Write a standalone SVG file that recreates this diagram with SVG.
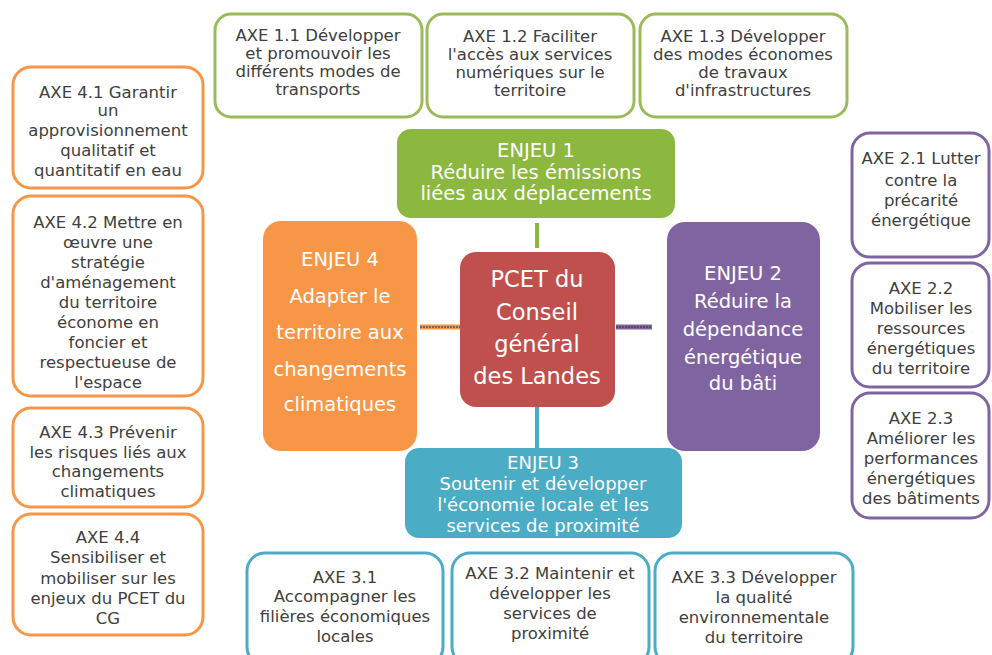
<svg xmlns="http://www.w3.org/2000/svg" width="992" height="655" viewBox="0 0 992 655">
<style>
.axe{fill:#fff;stroke-width:3}
.g{stroke:#9BBB59}.o{stroke:#F79646}.p{stroke:#8064A2}.t{stroke:#4BACC6}
.at{font-family:"DejaVu Sans",Verdana,sans-serif;font-size:16.5px;fill:#404040;text-anchor:middle}
.et{font-family:"DejaVu Sans",Verdana,sans-serif;font-size:19.5px;fill:#fff;text-anchor:middle}
.et3{font-family:"DejaVu Sans",Verdana,sans-serif;font-size:18px;fill:#fff;text-anchor:middle}
.ct{font-family:"DejaVu Sans",Verdana,sans-serif;font-size:22.5px;fill:#fff;text-anchor:middle}
</style>
<rect width="992" height="655" fill="#fff"/>
<g id="connectors">
<line x1="537" y1="223" x2="537" y2="248" stroke="#8CB840" stroke-width="4"/>
<line x1="420" y1="327" x2="460" y2="327" stroke="#F79646" stroke-width="5"/>
<line x1="420" y1="327" x2="460" y2="327" stroke="#555" stroke-width="1.5" stroke-dasharray="2,1"/>
<line x1="616" y1="327" x2="652" y2="327" stroke="#8064A2" stroke-width="5"/>
<line x1="616" y1="327" x2="652" y2="327" stroke="#444" stroke-width="1.5" stroke-dasharray="2,1"/>
<line x1="537" y1="406" x2="537" y2="448" stroke="#4BACC6" stroke-width="4"/>
</g>
<g id="axe11"><rect class="axe g" x="215" y="14" width="207" height="103" rx="16"/>
<text class="at" x="318" y="41">AXE 1.1 Développer</text><text class="at" x="318" y="59">et promouvoir les</text><text class="at" x="318" y="77">différents modes de</text><text class="at" x="318" y="95">transports</text></g>
<g id="axe12"><rect class="axe g" x="427" y="14" width="207" height="103" rx="16"/>
<text class="at" x="530" y="42">AXE 1.2 Faciliter</text><text class="at" x="530" y="60">l'accès aux services</text><text class="at" x="530" y="78">numériques sur le</text><text class="at" x="530" y="96">territoire</text></g>
<g id="axe13"><rect class="axe g" x="640" y="14" width="207" height="103" rx="16"/>
<text class="at" x="743" y="42">AXE 1.3 Développer</text><text class="at" x="743" y="60">des modes économes</text><text class="at" x="743" y="78">de travaux</text><text class="at" x="743" y="96">d'infrastructures</text></g>
<g id="axe41"><rect class="axe o" x="13" y="67" width="190" height="121" rx="18"/>
<text class="at" x="108" y="98">AXE 4.1 Garantir</text><text class="at" x="108" y="116">un</text><text class="at" x="108" y="136">approvisionnement</text><text class="at" x="108" y="156">qualitatif et</text><text class="at" x="108" y="176">quantitatif en eau</text></g>
<g id="axe42"><rect class="axe o" x="13" y="196" width="190" height="200" rx="18"/>
<text class="at" x="108" y="228">AXE 4.2 Mettre en</text><text class="at" x="108" y="248">œuvre une</text><text class="at" x="108" y="268">stratégie</text><text class="at" x="108" y="288">d'aménagement</text><text class="at" x="108" y="308">du territoire</text><text class="at" x="108" y="328">économe en</text><text class="at" x="108" y="348">foncier et</text><text class="at" x="108" y="368">respectueuse de</text><text class="at" x="108" y="388">l'espace</text></g>
<g id="axe43"><rect class="axe o" x="13" y="408" width="190" height="99" rx="18"/>
<text class="at" x="108" y="438">AXE 4.3 Prévenir</text><text class="at" x="108" y="458">les risques liés aux</text><text class="at" x="108" y="477">changements</text><text class="at" x="108" y="497">climatiques</text></g>
<g id="axe44"><rect class="axe o" x="13" y="514" width="190" height="121" rx="18"/>
<text class="at" x="108" y="543">AXE 4.4</text><text class="at" x="108" y="563">Sensibiliser et</text><text class="at" x="108" y="584">mobiliser sur les</text><text class="at" x="108" y="604">enjeux du PCET du</text><text class="at" x="108" y="624">CG</text></g>
<g id="axe21"><rect class="axe p" x="852" y="133" width="137" height="124" rx="18"/>
<text class="at" x="921" y="164">AXE 2.1 Lutter</text><text class="at" x="921" y="186">contre la</text><text class="at" x="921" y="206">précarité</text><text class="at" x="921" y="226">énergétique</text></g>
<g id="axe22"><rect class="axe p" x="852" y="263" width="137" height="124" rx="18"/>
<text class="at" x="921" y="294">AXE 2.2</text><text class="at" x="921" y="314">Mobiliser les</text><text class="at" x="921" y="334">ressources</text><text class="at" x="921" y="354">énergétiques</text><text class="at" x="921" y="374">du territoire</text></g>
<g id="axe23"><rect class="axe p" x="852" y="393" width="137" height="125" rx="18"/>
<text class="at" x="921" y="424">AXE 2.3</text><text class="at" x="921" y="444">Améliorer les</text><text class="at" x="921" y="464">performances</text><text class="at" x="921" y="484">énergétiques</text><text class="at" x="921" y="504">des bâtiments</text></g>
<g id="axe31"><rect class="axe t" x="247" y="553" width="196" height="112" rx="18"/>
<text class="at" x="345" y="583">AXE 3.1</text><text class="at" x="345" y="602">Accompagner les</text><text class="at" x="345" y="622">filières économiques</text><text class="at" x="345" y="642">locales</text></g>
<g id="axe32"><rect class="axe t" x="452" y="553" width="197" height="112" rx="18"/>
<text class="at" x="550" y="579">AXE 3.2 Maintenir et</text><text class="at" x="550" y="599">développer les</text><text class="at" x="550" y="619">services de</text><text class="at" x="550" y="639">proximité</text></g>
<g id="axe33"><rect class="axe t" x="655" y="553" width="198" height="112" rx="18"/>
<text class="at" x="754" y="583">AXE 3.3 Développer</text><text class="at" x="754" y="603">la qualité</text><text class="at" x="754" y="623">environnementale</text><text class="at" x="754" y="643">du territoire</text></g>
<g id="enjeu1"><rect x="397" y="129" width="278" height="89" rx="14" fill="#8CB840"/>
<text class="et" x="536" y="157">ENJEU 1</text><text class="et" x="536" y="179">Réduire les émissions</text><text class="et" x="536" y="200">liées aux déplacements</text></g>
<g id="enjeu4"><rect x="263" y="221" width="154" height="230" rx="18" fill="#F79646"/>
<text class="et" x="340" y="266">ENJEU 4</text><text class="et" x="340" y="303">Adapter le</text><text class="et" x="340" y="339">territoire aux</text><text class="et" x="340" y="376">changements</text><text class="et" x="340" y="411">climatiques</text></g>
<g id="pcet"><rect x="460" y="252" width="155" height="155" rx="16" fill="#C0504D"/>
<text class="ct" x="537" y="287">PCET du</text><text class="ct" x="537" y="320">Conseil</text><text class="ct" x="537" y="352">général</text><text class="ct" x="537" y="384">des Landes</text></g>
<g id="enjeu2"><rect x="667" y="222" width="153" height="229" rx="18" fill="#8064A2"/>
<text class="et" x="743" y="280">ENJEU 2</text><text class="et" x="743" y="308">Réduire la</text><text class="et" x="743" y="336">dépendance</text><text class="et" x="743" y="364">énergétique</text><text class="et" x="743" y="390">du bâti</text></g>
<g id="enjeu3"><rect x="405" y="448" width="277" height="90" rx="14" fill="#4BACC6"/>
<text class="et3" x="543" y="469">ENJEU 3</text><text class="et3" x="543" y="490">Soutenir et développer</text><text class="et3" x="543" y="511">l'économie locale et les</text><text class="et3" x="543" y="532">services de proximité</text></g>
</svg>
